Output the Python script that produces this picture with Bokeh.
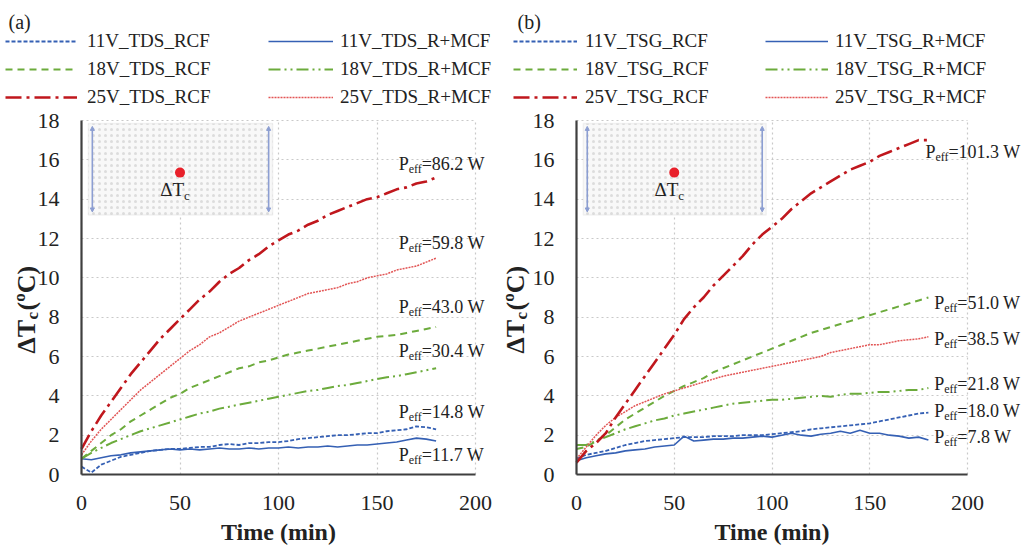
from math import pi

from bokeh.embed import file_html
from bokeh.layouts import row
from bokeh.models import (Arrow, BoxAnnotation, ColumnDataSource, FixedTicker, Grid,
                          Label, LabelSet, Legend, LegendItem, NormalHead, Range1d)
from bokeh.plotting import figure
from bokeh.resources import INLINE

# ---------------------------------------------------------------- data
time_min = list(range(0, 181, 5))

# (a) TDS
tds_11v_rcf = [0.4, 0.1, 0.5, 0.7, 0.9, 1.0, 1.1, 1.2, 1.25, 1.3, 1.3, 1.35, 1.4, 1.4, 1.5,
               1.55, 1.5, 1.6, 1.6, 1.65, 1.65, 1.7, 1.8, 1.85, 1.9, 1.95, 2.0, 2.0, 2.05,
               2.1, 2.1, 2.2, 2.25, 2.3, 2.45, 2.4, 2.3]
tds_18v_rcf = [0.8, 1.2, 1.6, 2.0, 2.3, 2.7, 3.0, 3.3, 3.6, 3.9, 4.1, 4.4, 4.6, 4.8, 5.0,
               5.2, 5.4, 5.5, 5.7, 5.8, 5.95, 6.1, 6.2, 6.3, 6.4, 6.5, 6.6, 6.7, 6.8, 6.9,
               7.0, 7.05, 7.1, 7.2, 7.3, 7.4, 7.5]
tds_25v_rcf = [1.3, 2.2, 3.0, 3.7, 4.4, 5.1, 5.7, 6.3, 6.9, 7.4, 7.9, 8.4, 8.9, 9.3, 9.8,
               10.2, 10.5, 10.9, 11.2, 11.6, 11.9, 12.2, 12.4, 12.7, 12.9, 13.2, 13.4, 13.6,
               13.8, 14.0, 14.1, 14.3, 14.5, 14.6, 14.8, 14.9, 15.1]
tds_11v_rmcf = [0.8, 0.75, 0.85, 0.95, 1.0, 1.1, 1.15, 1.2, 1.25, 1.3, 1.25, 1.3, 1.25, 1.3,
                1.35, 1.3, 1.3, 1.35, 1.3, 1.35, 1.35, 1.4, 1.35, 1.4, 1.4, 1.45, 1.4, 1.45,
                1.5, 1.5, 1.55, 1.6, 1.65, 1.75, 1.85, 1.8, 1.7]
tds_18v_rmcf = [0.8, 1.1, 1.35, 1.6, 1.8, 2.0, 2.2, 2.35, 2.5, 2.65, 2.8, 2.95, 3.1, 3.2,
                3.35, 3.45, 3.55, 3.65, 3.75, 3.85, 3.95, 4.05, 4.15, 4.25, 4.3, 4.4, 4.5,
                4.55, 4.65, 4.75, 4.85, 4.95, 5.0, 5.1, 5.2, 5.3, 5.4]
tds_25v_rmcf = [1.0, 1.7, 2.3, 2.8, 3.3, 3.8, 4.3, 4.7, 5.1, 5.5, 5.9, 6.3, 6.6, 7.0, 7.2,
                7.5, 7.8, 8.0, 8.2, 8.4, 8.6, 8.8, 9.0, 9.2, 9.3, 9.4, 9.5, 9.7, 9.8, 10.0,
                10.1, 10.2, 10.4, 10.5, 10.6, 10.8, 11.0]

# (b) TSG
tsg_11v_rcf = [0.8, 1.0, 1.1, 1.2, 1.35, 1.5, 1.6, 1.7, 1.75, 1.8, 1.85, 1.9, 1.9, 1.9, 1.95,
               1.95, 1.95, 2.0, 2.0, 2.0, 2.05, 2.1, 2.15, 2.2, 2.3, 2.35, 2.4, 2.45, 2.5,
               2.55, 2.6, 2.7, 2.8, 2.9, 3.0, 3.1, 3.15]
tsg_18v_rcf = [1.3, 1.4, 1.7, 2.0, 2.4, 2.8, 3.1, 3.4, 3.7, 4.0, 4.25, 4.5, 4.7, 4.9, 5.2,
               5.4, 5.6, 5.8, 6.0, 6.2, 6.4, 6.6, 6.8, 7.0, 7.2, 7.35, 7.5, 7.65, 7.8, 7.95,
               8.1, 8.25, 8.4, 8.55, 8.7, 8.85, 9.0]
tsg_25v_rcf = [0.6, 1.2, 1.6, 2.1, 2.9, 3.6, 4.3, 5.0, 5.7, 6.4, 7.1, 7.9, 8.5, 9.0, 9.6,
               10.1, 10.6, 11.1, 11.7, 12.2, 12.6, 13.0, 13.5, 13.9, 14.3, 14.6, 14.9, 15.2,
               15.5, 15.7, 15.9, 16.2, 16.4, 16.6, 16.8, 17.0, 17.0]
tsg_11v_rmcf = [0.7, 0.85, 0.95, 1.05, 1.1, 1.2, 1.25, 1.3, 1.4, 1.45, 1.5, 1.95, 1.7, 1.75,
                1.8, 1.8, 1.85, 1.85, 1.9, 1.95, 1.9, 2.0, 2.1, 2.0, 1.95, 2.05, 2.1, 2.2,
                2.1, 2.25, 2.1, 2.1, 2.0, 1.95, 1.85, 1.9, 1.75]
tsg_18v_rmcf = [1.5, 1.5, 1.7, 1.9, 2.1, 2.3, 2.45, 2.6, 2.75, 2.85, 3.0, 3.1, 3.2, 3.3, 3.4,
                3.5, 3.6, 3.65, 3.7, 3.75, 3.8, 3.8, 3.85, 3.9, 3.95, 4.0, 3.95, 4.05, 4.1,
                4.1, 4.15, 4.2, 4.2, 4.25, 4.3, 4.3, 4.4]
tsg_25v_rmcf = [0.8, 1.4, 2.0, 2.5, 2.9, 3.2, 3.5, 3.7, 3.9, 4.1, 4.25, 4.4, 4.55, 4.7, 4.85,
                5.0, 5.1, 5.2, 5.3, 5.4, 5.5, 5.6, 5.7, 5.8, 5.9, 6.0, 6.2, 6.3, 6.4, 6.5,
                6.6, 6.6, 6.7, 6.8, 6.85, 6.9, 7.0]

# effective heating power of each run
peff_a = ["86.2", "59.8", "43.0", "30.4", "14.8", "11.7"]
peff_b = ["101.3", "51.0", "38.5", "21.8", "18.0", "7.8"]

x_ticks = [0, 50, 100, 150, 200]
y_ticks = [0, 2, 4, 6, 8, 10, 12, 14, 16, 18]

# ---------------------------------------------------------------- styles
SERIF = "Liberation Serif"
INK = "#222222"
BLUE = "#3560B4"
GREEN = "#6CAB3C"
DARK_RED = "#C0171D"
LIGHT_RED = "#E25555"
GRID = "#C9C9C9"

STYLE = {
    "11V_RCF": dict(line_color=BLUE, line_dash="4 2", line_width=1.8),
    "18V_RCF": dict(line_color=GREEN, line_dash="7 5", line_width=2.0),
    "25V_RCF": dict(line_color=DARK_RED, line_dash="16 5 3 5", line_width=2.6),
    "11V_R+MCF": dict(line_color=BLUE, line_dash="solid", line_width=1.6),
    "18V_R+MCF": dict(line_color=GREEN, line_dash="12 4 2 4 2 4", line_width=2.0),
    "25V_R+MCF": dict(line_color=LIGHT_RED, line_dash="2 1", line_width=1.5),
}

FIG_H = 546
AX_TOP, AX_BOTTOM = 120, 474          # pixel rows of y = 18 and y = 0
PX_PER_Y = (AX_BOTTOM - AX_TOP) / 18.0
HAS_CROSS_BOUNDS = "cross_bounds" in Grid.properties()


def build_panel(tag, tag_x, method, series, peff, peff_pos, fig_w, ax_left, ax_right,
                ylab_x, legend_cfg):
    # the frame fills the whole canvas; the axes sit at fixed data locations
    px_per_x = (ax_right - ax_left) / 200.0
    x0 = -ax_left / px_per_x
    x1 = 200 + (fig_w - ax_right) / px_per_x
    y1 = AX_BOTTOM / PX_PER_Y
    y0 = -(FIG_H - AX_BOTTOM) / PX_PER_Y
    p = figure(width=fig_w, height=FIG_H, x_range=Range1d(x0, x1), y_range=Range1d(y0, y1),
               output_backend="svg", toolbar_location=None, min_border=0)
    p.outline_line_color = None
    p.background_fill_color = "white"
    p.border_fill_color = "white"

    p.xaxis.ticker = FixedTicker(ticks=x_ticks)
    p.yaxis.ticker = FixedTicker(ticks=y_ticks)
    p.xaxis.fixed_location = 0
    p.yaxis.fixed_location = 0
    p.xaxis.bounds = (0, 200)
    p.yaxis.bounds = (0, 18)
    for ax in (p.xaxis[0], p.yaxis[0]):
        ax.axis_line_color = "#3F3F3F"
        ax.axis_line_width = 2.2
        ax.major_tick_line_color = None
        ax.minor_tick_line_color = None
        ax.major_label_text_font = SERIF
        ax.major_label_text_font_size = "22px"
        ax.major_label_text_color = INK
    p.xaxis.major_label_standoff = 15
    p.yaxis.major_label_standoff = 16
    p.xaxis.axis_label = "Time (min)"
    p.xaxis.axis_label_text_font = SERIF
    p.xaxis.axis_label_text_font_size = "24px"
    p.xaxis.axis_label_text_font_style = "bold"
    p.xaxis.axis_label_text_color = INK
    p.xaxis.axis_label_standoff = 6

    if HAS_CROSS_BOUNDS:
        for g in (p.xgrid[0], p.ygrid[0]):
            g.grid_line_color = GRID
            g.grid_line_dash = "2 3"
            g.grid_line_width = 1.2
        p.xgrid[0].cross_bounds = (0, 18)
        p.ygrid[0].cross_bounds = (0, 200)
    else:
        p.xgrid.visible = False
        p.ygrid.visible = False
        p.segment(x0=x_ticks, x1=x_ticks, y0=[0] * len(x_ticks), y1=[18] * len(x_ticks),
                  line_color=GRID, line_dash="2 3", line_width=1.2)
        p.segment(x0=[0] * len(y_ticks), x1=[200] * len(y_ticks), y0=y_ticks, y1=y_ticks,
                  line_color=GRID, line_dash="2 3", line_width=1.2)

    # inset sketch of the sample with the measuring point
    p.add_layout(BoxAnnotation(left=3.5, right=97, bottom=13.2, top=17.85,
                               fill_color="#F8F8F8", fill_alpha=1.0,
                               hatch_pattern=".", hatch_color="#A8A8A8", hatch_alpha=0.35,
                               hatch_scale=6, line_color="#D6D6D6", line_width=1.5,
                               level="underlay"))
    for xe in (5.5, 95):
        head = dict(size=4, fill_color="#8C9ED2", line_color="#8C9ED2")
        p.add_layout(Arrow(x_start=xe, y_start=13.35, x_end=xe, y_end=17.7,
                           line_color="#8C9ED2", line_width=1.6,
                           start=NormalHead(**head), end=NormalHead(**head)))
    p.scatter(x=[50], y=[15.35], size=10, fill_color="#E8202A", line_color=None)
    p.add_layout(Label(x=50, y=14.5, text="ΔT", text_align="right", text_baseline="middle",
                       text_font=SERIF, text_font_size="19px", text_color=INK, x_offset=4))
    p.add_layout(Label(x=50, y=14.5, text="c", text_align="left", text_baseline="middle",
                       text_font=SERIF, text_font_size="13px", text_color=INK,
                       x_offset=4, y_offset=-6))

    renderers = {}
    for key, values in series:
        renderers[key] = p.line(time_min, values, **STYLE[key])

    # legends: two columns above the plot area
    for keys, (lx, gw, standoff) in zip(
            (["11V_RCF", "18V_RCF", "25V_RCF"], ["11V_R+MCF", "18V_R+MCF", "25V_R+MCF"]),
            legend_cfg):
        items = []
        for k in keys:
            volt, kind = k.split("_", 1)
            items.append(LegendItem(label=f"{volt}_{method}_{kind}", renderers=[renderers[k]]))
        leg = Legend(items=items, location=(lx, FIG_H - 108), orientation="vertical",
                     padding=0, margin=0, spacing=6, glyph_width=gw, glyph_height=20,
                     label_height=20, label_standoff=standoff,
                     label_text_font=SERIF, label_text_font_size="19px",
                     label_text_color=INK, border_line_color=None,
                     background_fill_alpha=0)
        p.add_layout(leg)

    # power annotations: P + subscript eff + value
    src = ColumnDataSource(dict(x=[q[0] for q in peff_pos], y=[q[1] for q in peff_pos],
                                p=["P"] * len(peff), eff=["eff"] * len(peff),
                                rest=[f"={v} W" for v in peff]))
    common = dict(x="x", y="y", source=src, text_font=SERIF, text_color=INK,
                  text_baseline="middle", text_align="left")
    p.add_layout(LabelSet(text="p", text_font_size="18px", **common))
    p.add_layout(LabelSet(text="eff", text_font_size="12px", x_offset=10, y_offset=-5, **common))
    p.add_layout(LabelSet(text="rest", text_font_size="18px", x_offset=23, **common))

    # panel tag
    p.add_layout(Label(x=tag_x, y=FIG_H - 21, x_units="screen", y_units="screen", text=tag,
                       text_font=SERIF, text_font_size="20px", text_color=INK,
                       text_baseline="alphabetic"))

    # rotated y-axis title: ΔTc (ºC)
    yl = dict(x_units="screen", y_units="screen", angle=pi / 2, text_font=SERIF,
              text_font_style="bold", text_color=INK, text_baseline="middle",
              text_align="left")
    ly = FIG_H - 353
    p.add_layout(Label(x=ylab_x, y=ly, text="ΔT", text_font_size="26px", **yl))
    p.add_layout(Label(x=ylab_x + 6, y=ly + 34, text="c", text_font_size="17px", **yl))
    p.add_layout(Label(x=ylab_x, y=ly + 43, text=" (ºC)", text_font_size="26px", **yl))
    return p


pos_a = [(161, 15.8), (161, 11.75), (161, 8.5), (161, 6.3), (161, 3.2), (161, 0.97)]
pos_b = [(178.5, 16.4), (183, 8.7), (183, 6.9), (183, 4.6), (183, 3.25), (183, 1.9)]

panel_a = build_panel(
    "(a)", 8, "TDS",
    [("11V_R+MCF", tds_11v_rmcf), ("11V_RCF", tds_11v_rcf), ("18V_R+MCF", tds_18v_rmcf),
     ("18V_RCF", tds_18v_rcf), ("25V_R+MCF", tds_25v_rmcf), ("25V_RCF", tds_25v_rcf)],
    peff_a, pos_a, fig_w=500, ax_left=81, ax_right=475, ylab_x=26,
    legend_cfg=[(5, 72, 10), (268, 65, 7)])

panel_b = build_panel(
    "(b)", 17, "TSG",
    [("11V_R+MCF", tsg_11v_rmcf), ("11V_RCF", tsg_11v_rcf), ("18V_R+MCF", tsg_18v_rmcf),
     ("18V_RCF", tsg_18v_rcf), ("25V_R+MCF", tsg_25v_rmcf), ("25V_RCF", tsg_25v_rcf)],
    peff_b, pos_b, fig_w=532, ax_left=76, ax_right=467, ylab_x=15,
    legend_cfg=[(13, 64, 8), (265, 63, 7)])

layout = row(panel_a, panel_b)
open("out.html", "w").write(file_html(layout, INLINE))
